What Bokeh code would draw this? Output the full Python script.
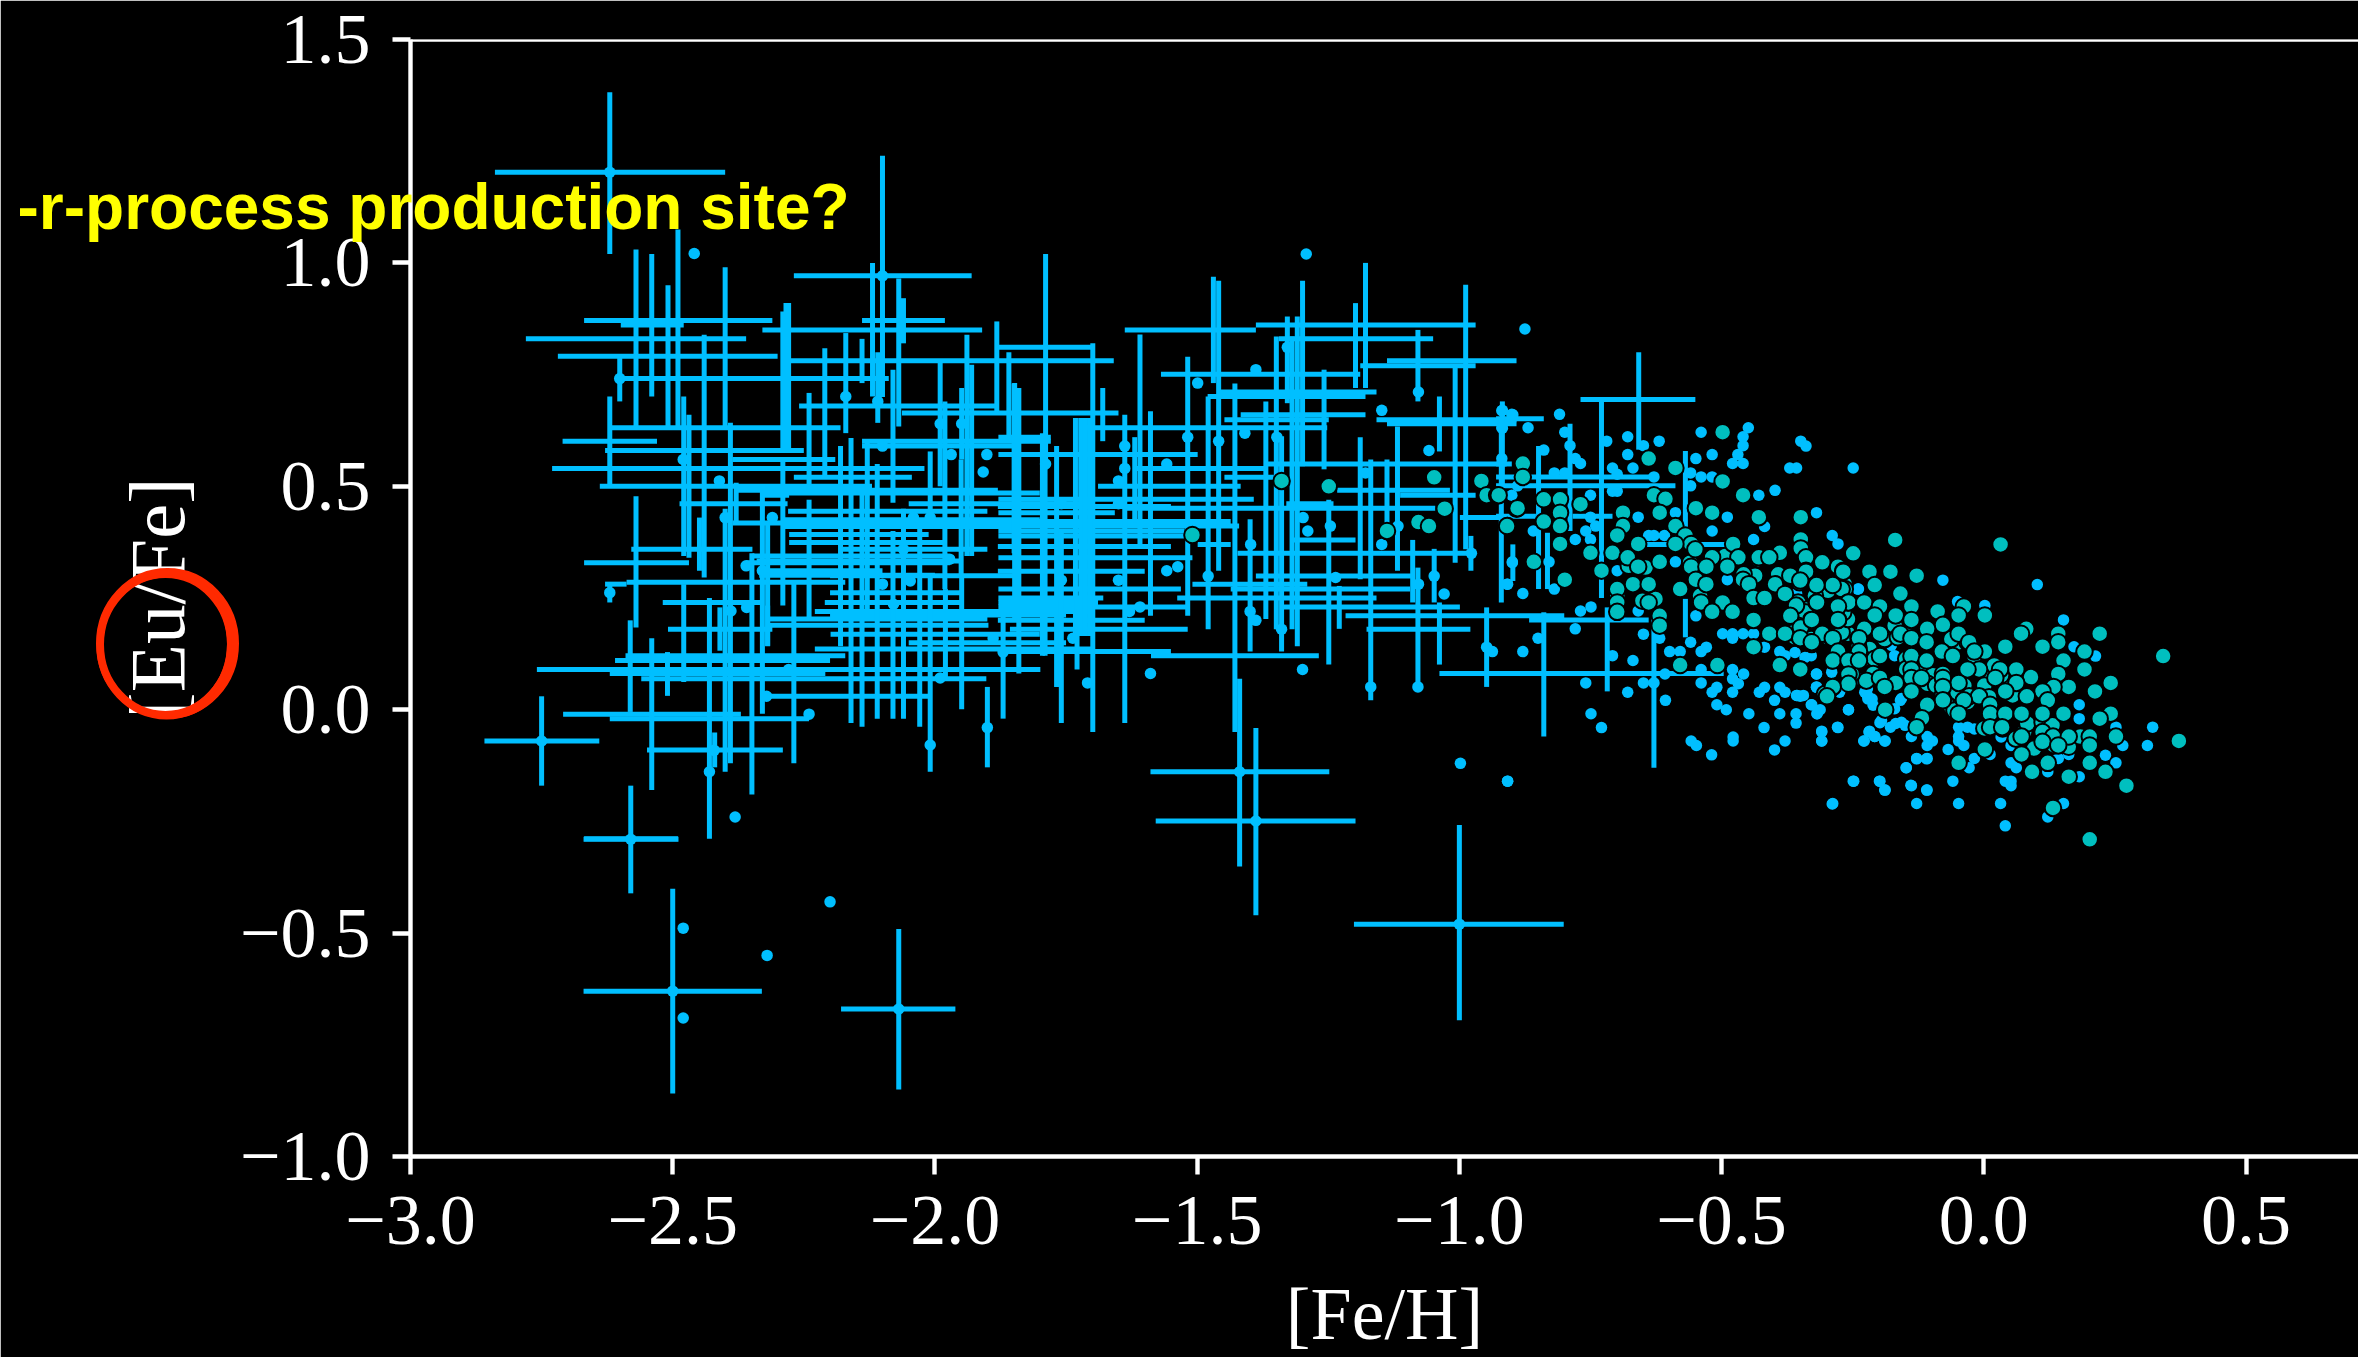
from bokeh.plotting import figure
from bokeh.embed import file_html
from bokeh.resources import INLINE
from bokeh.models import FixedTicker, Label, Span, Range1d

x_ticks = [-3.0, -2.5, -2.0, -1.5, -1.0, -0.5, 0.0, 0.5]
x_tick_labels = ["\u22123.0", "\u22122.5", "\u22122.0", "\u22121.5", "\u22121.0", "\u22120.5", "0.0", "0.5"]
y_ticks = [-1.0, -0.5, 0.0, 0.5, 1.0, 1.5]
y_tick_labels = ["\u22121.0", "\u22120.5", "0.0", "0.5", "1.0", "1.5"]
x_title = "[Fe/H]"
y_title = "[Eu/Fe]"
note = "-r-process production site?"

# [Fe/H] error bars of the metal-poor stars: (y, x_low, x_high)
h_bars = [
 (1.203,-2.839,-2.400),(.971,-2.269,-1.930),(.871,-2.669,-2.310),(.861,-2.599,-2.479),(.830,-2.780,-2.360),
 (.791,-2.719,-2.300),(.850,-2.329,-1.910),(.871,-2.139,-1.981),(.741,-2.601,-2.088),(.781,-2.275,-1.659),
 (.680,-2.259,-1.88),(.664,-2.063,-1.650),(.631,-2.619,-2.180),(.601,-2.710,-2.530),(.601,-2.139,-1.779),
 (.590,-2.139,-1.85),(.580,-2.629,-2.250),(.560,-2.386,-2.190),(.540,-2.730,-2.020),(.520,-2.269,-2.044),
 (.500,-2.639,-2.120),(.491,-2.379,-1.88),(.485,-2.33,-1.80),(.461,-2.487,-2.281),(.461,-2.05,-1.70),
 (.480,-2.329,-2.278),(.418,-2.386,-1.75),(.425,-2.29,-1.80),(.392,-2.278,-2.012),(.374,-2.278,-1.981),
 (.359,-2.579,-2.348),(.359,-2.18,-1.90),(.344,-2.348,-1.974),(.329,-2.669,-2.469),(.329,-2.360,-1.971),
 (.301,-2.335,-2.0),(.311,-2.33,-2.10),(.281,-2.629,-2.588),(.285,-2.588,-2.171),(.240,-2.519,-2.329),
 (.240,-2.21,-1.95),(.220,-2.229,-1.70),(.189,-2.316,-1.898),(.180,-2.509,-2.310),(.169,-2.199,-1.80),
 (.150,-2.05,-1.75),(.136,-2.229,-1.70),(.090,-2.759,-2.215),(.110,-2.610,-2.20),(.121,-2.590,-2.171),
 (.081,-2.620,-2.209),(.069,-2.560,-1.902),(.030,-2.326,-2.012),(-.010,-2.709,-2.370),(-.020,-2.620,-2.240),
 (-.070,-2.859,-2.640),(-.090,-2.549,-2.290),(-.289,-2.669,-2.490),(.090,-2.219,-1.799),
 (-.670,-2.179,-1.961),(-.630,-2.670,-2.330),(-.290,-2.670,-2.489),
 (.850,-1.638,-1.388),(.861,-1.388,-.969),(.830,-1.344,-1.050),(.811,-1.879,-1.699),(.781,-1.138,-.891),
 (.770,-1.189,-.969),(.751,-1.569,-1.189),(.711,-1.461,-1.158),(.701,-1.480,-1.179),(.660,-1.417,-1.179),
 (.649,-1.448,-1.249),(.649,-1.158,-.891),(.640,-1.138,-.891),(.631,-1.721,-1.252),(.610,-1.879,-1.779),
 (.571,-1.879,-1.499),(.550,-1.366,-.910),(.540,-1.62,-1.37),(.520,-1.448,-1.354),(.500,-1.689,-1.417),
 (.491,-1.233,-1.018),(.480,-1.113,-.969),(.471,-1.879,-1.392),(.461,-1.33,-1.24),(.451,-1.638,-1.046),
 (.430,-.999,-.910),(.441,-1.879,-1.657),(.421,-1.879,-1.436),(.411,-1.879,-1.42),(.400,-1.879,-1.524),
 (.389,-1.879,-1.524),(.380,-1.322,-1.198),(.370,-1.499,-1.436),(.350,-1.423,-.977),(.340,-1.879,-1.509),
 (.299,-1.388,-1.091),(.281,-1.509,-1.290),(.270,-1.879,-1.531),(.270,-1.436,-1.094),(.250,-1.879,-1.679),
 (.250,-1.538,-1.158),(.240,-1.879,-1.689),(.230,-1.879,-1.518),(.230,-1.341,-.999),(.210,-1.217,-.80),
 (.180,-1.857,-1.518),(.180,-1.177,-.979),(.130,-1.879,-1.550),(.121,-1.588,-1.268),(-.139,-1.589,-1.248),
 (-.249,-1.579,-1.198),(-.480,-1.201,-.801),(.081,-1.038,-.640),(.081,-.762,-.496),(.201,-.867,-.639),
 (.694,-.769,-.550),(.651,-.93,-.839),(.521,-.93,-.629),(.501,-.93,-.588),(.550,-.93,-.90),(.433,-.93,-.854),
 (.433,-.784,-.708),(.370,-.642,-.493),
 (.410,-2.29,-1.85),(.333,-2.34,-1.95),(.203,-2.316,-1.90),(.212,-2.20,-1.75),(.300,-2.20,-1.85),(.262,-2.20,-1.95),
 (.444,-2.28,-1.90),(.455,-1.88,-1.55),(.365,-1.88,-1.55),(.310,-1.88,-1.60),(.200,-1.88,-1.60),
]

# [Eu/Fe] error bars: (x, y_low, y_high)
v_bars = [
 (-2.620,1.02,1.382),(-2.100,.70,1.24),(-2.490,.634,1.075),(-2.540,.701,1.02),(-2.570,.634,1.03),
 (-2.509,.634,.950),(-2.119,.701,1.0),(-2.060,.820,.921),(-2.601,.690,.787),(-2.400,.634,.99),
 (-2.284,.575,.91),(-2.620,.504,.701),(-2.440,.296,.839),(-2.479,.344,.701),(-2.469,.340,.660),
 (-2.570,.184,.478),(-2.581,-.005,.200),(-2.620,.240,.277),(-2.449,.311,.430),(-2.479,.062,.281),
 (-2.430,-.289,.25),(-2.410,.132,.229),(-2.390,-.120,.642),(-2.379,.418,.508),(-2.329,-.009,.489),
 (-2.319,.143,.418),(-2.290,.233,.560),(-2.290,.575,.891),(-2.279,.575,.910),(-2.269,-.120,.29),
 (-2.240,.493,.709),(-2.210,.519,.809),(-2.240,.2,.47),(-2.180,.142,.590),(-2.160,-.030,.608),
 (-2.170,.619,.843),(-2.139,.731,.830),(-2.139,-.038,.50),(-2.129,.2,.60),(-2.109,.642,.80),
 (-2.110,-.020,.55),(-2.080,.463,.761),(-2.080,-.020,.40),(-2.069,.634,.965),(-2.060,-.020,.45),
 (-1.990,.500,.776),(-1.981,.270,.690),(-1.949,.560,.720),(-1.939,.344,.839),(-1.930,.344,.772),
 (-1.882,.664,.869),(-2.009,.426,.578),(-2.009,-.139,.30),(-2.029,-.038,.42),(-1.949,.001,.30),
 (-1.900,-.129,.051),(-2.750,-.170,.030),(-2.580,-.411,-.170),(-2.540,-.180,.160),(-2.510,.031,.129),
 (-2.420,-.129,-.051),(-2.400,-.139,.45),(-2.349,-.190,.35),(-2.319,.142,.233),(-2.500,-.859,-.401),
 (-2.069,-.850,-.491),(-1.789,.54,1.02),(-1.699,-.050,.820),(-1.680,.601,.720),
 (-1.638,-.030,.66),(-1.609,.363,.840),(-1.589,.210,.668),(-1.619,.42,.61),(-1.518,.210,.790),
 (-1.479,.180,.701),(-1.469,.731,.969),(-1.459,.311,.960),(-1.428,-.050,.730),(-1.419,-.351,.069),
 (-1.388,-.46,-.041),(-1.399,.130,.426),(-1.369,.203,.690),(-1.349,.180,.835),(-1.339,.130,.612),
 (-1.328,.686,.880),(-1.319,.180,.835),(-1.309,.142,.880),(-1.299,.545,.960),(-1.258,.538,.761),
 (-1.249,.101,.470),(-1.229,.181,.277),(-1.198,.720,.910),(-1.179,.720,1.0),(-1.189,.292,.610),
 (-1.169,.021,.560),(-1.138,.389,.560),(-1.118,.311,.634),(-1.079,.690,.850),(-1.089,.24,.38),
 (-1.079,.051,.318),(-1.048,.24,.36),(-1.038,.578,.701),(-1.038,.101,.240),(-1.008,.329,.765),
 (-.988,.359,.951),(-.978,.311,.389),(-.948,.051,.229),(-.918,.50,.69),(-1.732,.165,.653),
 (-1.722,.165,.653),(-1.713,.165,.653),(-1.705,.165,.653),(-1.768,.051,.590),(-1.759,-.030,.40),
 (-1.795,.121,.619),(-1.790,.121,.540),(-1.870,-.020,.25),(-1.840,.081,.720),(-1.859,.6,.80),
 (-1.849,.35,.73),(-1.729,.090,.25),(-1.000,-.695,-.258),(-.839,-.060,.218),(-.718,.041,.229),
 (-.629,-.130,.203),(-.729,.25,.694),(-.658,.582,.80),(-.920,.240,.649),(-.898,.288,.370),
 (-.849,.270,.590),(-.832,.270,.396),(-.789,.400,.640),(-.569,.367,.579),(-.569,.162,.248),
 (-1.980,.073,.27),(-1.950,.30,.56),(-1.848,.20,.731),
]

# field stars without bars and the centres of the bars
blue_points = [
 (-2.459,1.021),(-1.292,1.02),(-.875,.852),(-2.381,-.240),(-2.200,-.430),(-2.480,-.489),(-2.480,-.690),(-2.320,-.550),
 (-1.589,.081),(-1.299,.090),(-.998,-.120),(-.908,-.160),(-1.169,.051),(-1.709,.060),(-2.620,1.203),(-2.100,.971),
 (-2.009,-.079),(-1.900,-.040),(-2.430,-.139),(-2.421,-.091),(-2.240,-.010),(-2.321,.030),(-2.279,.090),(-1.990,.071),
 (-1.889,.160),(-2.601,.741),(-2.310,.430),(-2.170,.701),(-2.109,.690),(-1.990,.640),(-1.949,.640),(-2.100,.590),
 (-1.969,.571),(-1.901,.571),(-1.908,.532),(-2.480,.560),(-2.411,.512),(-2.400,.430),(-2.100,.281),(-2.047,.288),
 (-2.079,.236),(-2.360,.322),(-2.329,.311),(-2.620,.262),(-2.389,.221),(-2.359,.229),(-2.041,.430),(-2.009,.430),
 (-2.060,.359),(-1.972,.337),(-2.750,-.070),(-2.500,-.630),(-2.069,-.670),(-2.580,-.290),(-1.419,-.139),(-1.388,-.249),
 (-1.000,-.480),(-1.328,.811),(-1.078,.711),(-1.499,.731),(-1.388,.761),(-1.148,.670),(-1.058,.580),(-.918,.670),
 (-.898,.660),(-.918,.630),(-1.638,.590),(-1.638,.540),(-1.518,.610),(-1.459,.601),(-1.409,.619),(-1.348,.610),
 (-1.789,.550),(-1.558,.550),(-1.650,.512),(-1.650,.461),(-1.759,.461),(-1.298,.430),(-1.289,.400),(-1.246,.411),
 (-1.148,.370),(-1.558,.311),(-1.537,.320),(-1.650,.290),(-1.759,.290),(-1.479,.299),(-1.398,.370),(-1.629,.220),
 (-1.609,.230),(-1.399,.220),(-1.388,.200),(-1.339,.180),(-1.737,.160),(-.948,.140),(-.937,.130),(-1.078,.281),
 (-1.029,.259),(-1.048,.299),(-.977,.350),(-.899,.329),(-.908,.281),(-1.117,.411),(-1.179,.530),(-1.236,.296),
 (-1.870,.129),(-1.079,.051),
 (-.078,.290),(.102,.280),(.152,.201),(.172,.141),(.213,.120),(.182,.011),(.182,-.020),(.322,-.039),(.312,-.080),
 (.252,-.039),(.252,-.119),(.232,-.102),(.265,-.080),(.182,-.150),(.122,-.139),(-.319,.080),(-.319,.051),(-.350,.030),
 (-.328,.011),(-.318,-.009),(-.258,0),(-.279,-.039),(-.309,-.048),(-.309,-.070),(-.228,-.070),(-.218,-.048),(-.208,-.060),
 (-.188,-.070),(-.198,-.029),(-.178,-.039),(-.138,-.060),(-.108,-.060),(-.098,-.070),(-.108,-.080),(-.068,-.089),
 (-.038,-.080),(-.048,-.060),(-.128,-.109),(-.108,-.109),(-.148,-.130),(-.018,-.109),(-.028,-.130),(-.248,-.160),
 (-.198,-.160),(-.188,-.180),(-.138,-.170),(-.108,-.180),(-.059,-.160),(.041,-.160),(.052,-.160),(.052,-.170),
 (-.288,-.210),(-.128,-.210),(-.048,-.210),(.032,-.210),(.152,-.210),(.122,-.240),(.041,-.260),(.052,-.119),(.062,-.130),
 (-.018,-.043),(-.031,-.039),(.052,-.080),(.012,-.100),(-.048,-.039),(-.048,-.070),(.162,-.100),(.142,-.109),
 (-.227,.039),(-.221,.024),(-.211,.010),(-.176,.144),(-.170,.121),(-.240,.270),(-.157,.025),(-.170,.002),(-.157,-.028),
 (-.237,.069),(-.275,.039),(-.290,.084),(-.050,.242),(.002,.233),(.033,-.061),
 (-.919,.669),(-.900,.661),(-.809,.661),(-.919,.631),(-.869,.631),(-.799,.621),(-.539,.621),(-.449,.631),(-.459,.611),
 (-.679,.611),(-.719,.601),(-.619,.601),(-.649,.591),(-.459,.591),(-.349,.601),(-.339,.590),(-.789,.591),(-.839,.581),
 (-.679,.571),(-.518,.571),(-.469,.571),(-.549,.562),(-.479,.551),(-.459,.551),(-.769,.551),(-.779,.562),(-.919,.562),
 (-.370,.541),(-.357,.541),(-.249,.541),(-.669,.541),(-.819,.530),(-.799,.530),(-.708,.541),(-.699,.527),(-.559,.530),
 (-.539,.521),(-.518,.521),(-.629,.521),(-.559,.501),(-.889,.501),(-.708,.489),(-.699,.489),(-.398,.491),(-.429,.480),
 (-.750,.480),(-.900,.480),(-.319,.441),(-.489,.431),(-.588,.441),(-.659,.431),(-.418,.410),(-.750,.431),(-.740,.411),
 (-.759,.400),(-.859,.400),(-.518,.400),(-.639,.390),(-.629,.390),(-.609,.390),(-.779,.381),(-.750,.381),(-.439,.381),
 (-.289,.390),(-.278,.371),(-.899,.331),(-.829,.331),(-.588,.331),(-.699,.311),(-.489,.291),(-.909,.281),(-.819,.270),
 (-.879,.260),(-.239,.270),(-.357,.260),(-.749,.230),(-.769,.221),(-.659,.221),(-.549,.210),(-.779,.181),(-.850,.160),
 (-.649,.169),(-.498,.170),(-.479,.170),(-.479,.160),(-.459,.170),(-.439,.170),(-.559,.151),(-.618,.160),(-.879,.130),
 (-.708,.121),(-.669,.110),(-.599,.130),(-.579,.130),(-.539,.130),(-.529,.140),(-.418,.140),(-.389,.130),(-.379,.121),
 (-.360,.128),(-.341,.117),(-.329,.121),(-.539,.090),(-.608,.080),(-.479,.090),(-.458,.080),(-.479,.069),(-.468,.058),
 (-.759,.060),(-.649,.060),(-.629,.060),(-.539,.060),(-.679,.039),(-.518,.039),(-.509,.050),(-.479,.039),(-.428,.039),
 (-.418,.050),(-.389,.050),(-.379,.039),(-.319,.080),(-.319,.050),(-.357,.032),(-.344,.032),
 (-.749,-.009),(-.729,-.040),(-.908,-.160),(-.558,-.070),(-.548,-.080),(-.519,-.101),(-.478,-.061),(-.478,-.070),
 (-.448,-.009),(-.419,-.040),(-.399,-.090),(-.379,-.070),(-.389,-.009),(-.358,-.009),(-.358,-.030),(-.309,-.050),
 (-.309,-.070),(-.278,-.040),(-.258,0),(-.229,-.070),(-.219,-.050),(-.208,-.060),(-.189,-.070),(-.399,.021),(-.509,.011),
 (-.491,0),(-.607,.021),(-.329,.011),(-.312,0),(-.318,-.009),(-.356,.032),(-.222,.047),(-.222,.032),(-.213,.024),
 (-.159,.021),(-.195,-.024),(-.168,-.031),(-.150,-.035),(-.249,-.160),(-.199,-.160),(-.189,-.180),(-.139,-.169),
 (-.109,-.180),(-.289,-.211),(-.148,-.130),(-.128,-.110),(-.109,-.110),
]

# thin-disc stars
teal_points = [
 # partly hidden stars first, so that they lie underneath
 (-.354,.240),(-.335,.225),(-.319,.263),(-.297,.263),(-.265,.281),(-.265,.214),(-.341,.162),(-.360,.162),(-.328,.147),
 (-.287,.162),(-.259,.170),(-.227,.184),(-.218,.136),(-.240,.140),(-.249,.114),(-.230,.114),(-.208,.114),(-.189,.158),
 (-.170,.188),(-.164,.162),(-.148,.170),(-.148,.114),(-.148,.091),(-.119,.091),(-.097,.077),(-.107,.058),(-.091,.054),
 (-.078,.032),(-.078,.080),(-.062,.006),(-.047,.151),(-.062,.158),(-.031,.151),(-.018,.121),(.014,.080),(.001,.054),
 (-.031,.017),(-.005,.028),(.010,.028),(.055,.077),(.090,.073),(.052,.054),(.055,.032),(.033,.077),(.020,.099),
 (.077,-.050),(.083,-.031),(.112,-.028),(.131,-.035),(.134,-.080),(.162,-.083),(.184,-.060),(.061,-.065),(.036,-.042),
 (.096,-.087),(.001,-.042),(-.043,.025),(-.037,.054),(-.050,.039),(-.056,-.002),(-.211,.080),(-.224,.065),(-.278,.136),
 (-.297,.039),(-.252,.080),(-.449,.292),(-.436,.300),(-.458,.303),(-.430,.337),(-.493,.344),(-.297,.266),(-.322,.255),
 (-.265,.270),(-.392,.303),(-.351,.285),(-.341,.218),(-.354,.188),(-.363,.173),(-.348,.158),(-.329,.158),(-.297,.162),
 (-.271,.173),(-.259,.203),(-.268,.218),(-.271,.270),(-.677,.322),(-.645,.318),(-.626,.248),(-.651,.244),(-.699,.255),
 (-.560,.329),(-.537,.270),(-.541,.255),
 (-1.339,.512),(-1.249,.500),(-1.509,.391),(-1.048,.520),(-.958,.512),(-.948,.480),(-.928,.480),(-1.028,.450),(-1.078,.420),
 (-1.058,.411),(-1.138,.400),(-.908,.411),(-.891,.450),(-.498,.621),(-.639,.562),(-.588,.541),(-.879,.551),(-.879,.521),
 (-.498,.511),(-.925,.480),(-.459,.480),(-.629,.480),(-.607,.472),(-.839,.471),(-.808,.471),(-.769,.460),(-.889,.451),
 (-.549,.451),(-.808,.441),(-.618,.441),(-.518,.441),(-.688,.441),(-.429,.431),(-.349,.431),(-.839,.421),(-.909,.411),
 (-.808,.411),(-.688,.411),(-.588,.411),(-.699,.390),(-.569,.390),(-.349,.381),(-.808,.371),(-.659,.371),(-.558,.371),
 (-.478,.371),(-.588,.371),(-.349,.361),(-.750,.351),(-.708,.351),(-.389,.351),(-.248,.351),(-.550,.359),(-.518,.341),
 (-.679,.341),(-.468,.341),(-.429,.341),(-.409,.341),(-.339,.341),(-.858,.331),(-.618,.331),(-.308,.331),(-.659,.320),
 (-.558,.320),(-.489,.320),(-.529,.320),(-.278,.320),(-.729,.311),(-.339,.311),(-.268,.311),(-.369,.300),(-.799,.291),
 (-.549,.291),(-.459,.291),(-.448,.281),(-.398,.281),(-.669,.281),(-.639,.281),(-.289,.281),(-.529,.281),(-.319,.281),
 (-.699,.270),(-.579,.270),(-.379,.259),(-.439,.250),(-.418,.250),(-.699,.240),(-.639,.240),(-.539,.240),(-.498,.240),
 (-.319,.240),(-.278,.233),(-.259,.240),(-.699,.219),(-.518,.219),(-.479,.219),(-.358,.233),(-.618,.210),(-.369,.210),
 (-.439,.201),(-.329,.201),(-.278,.201),(-.618,.188),(-.409,.170),(-.379,.170),(-.308,.170),(-.349,.184),(-.239,.160),
 (-.439,.140),(-.329,.151),(-.289,.160),(-.278,.132),(-.289,.110),(-.259,.110),(-.579,.100),(-.508,.100),(-.389,.100),
 (-.349,.090),(-.259,.080),(-.289,.050),(-.303,.035),(-.239,.140),(-.169,.380),(.032,.370),(-.179,.310),(-.130,.300),
 (-.249,.350),(-.220,.310),
 (-.339,.309),(-.308,.330),(-.268,.309),(-.218,.309),(-.178,.309),(-.128,.300),(-.159,.260),(-.208,.279),(-.288,.279),
 (-.319,.279),(-.350,.289),(-.318,.240),(-.258,.240),(-.228,.240),(-.198,.231),(-.278,.231),(-.138,.231),(-.088,.220),
 (-.038,.231),(.002,.211),(-.048,.211),(-.208,.211),(-.168,.211),(-.328,.201),(-.278,.201),(-.138,.201),(-.078,.190),
 (.081,.181),(.071,.170),(.142,.170),(.221,.170),(-.108,.181),(-.228,.181),(-.198,.170),(-.159,.170),(-.048,.170),
 (-.308,.170),(-.238,.160),(-.288,.160),(-.138,.160),(-.350,.160),(-.328,.151),(-.109,.151),(-.028,.151),(.142,.151),
 (.112,.141),(.041,.141),(.002,.130),(-.018,.130),(-.080,.130),(.192,.130),(-.278,.130),(-.059,.120),(-.198,.120),
 (-.138,.120),(-.238,.130),(.152,.110),(-.288,.110),(-.258,.110),(-.109,.110),(-.238,.110),(.192,.090),(-.350,.090),
 (-.009,.090),(.062,.090),(.031,.090),(-.031,.090),(-.138,.090),(.142,.080),(.022,.071),(-.258,.079),(-.198,.071),
 (-.138,.071),(-.078,.071),(-.119,.071),(-.048,.060),(-.168,.060),(.062,.060),(.242,.060),(-.258,.058),(.162,.051),
 (.133,.051),(-.078,.051),(-.288,.051),(-.189,.051),(.041,.041),(.212,.041),(.112,.041),(-.138,.041),(-.028,.030),
 (.082,.030),(-.299,.030),(.122,.021),(-.078,.021),(-.009,.030),(-.108,.011),(.012,.011),(-.038,.021),(-.188,0),
 (-.048,-.009),(.012,-.009),(.041,-.009),(.072,-.009),(.112,-.009),(.152,-.009),(.242,-.009),(.221,-.020),(-.118,-.019),
 (-.128,-.039),(.012,-.039),(.035,-.039),(.112,-.050),(.072,-.060),(.132,-.060),(.162,-.060),(.202,-.060),(.252,-.060),
 (.112,-.072),(.142,-.080),(.202,-.080),(.002,-.089),(.072,-.100),(-.048,-.119),(.122,-.119),(.202,-.119),(.092,-.139),
 (.232,-.139),(.162,-.150),(.272,-.170),(.132,-.220),(.202,-.290),(.342,.120),(.372,-.070),
]

BLUE = "#00BFFF"
TEAL = "#00BFBF"
RED = "#FF2A00"
SERIF = "Liberation Serif"
W, H = 2358, 1357

p = figure(width=W, height=H, output_backend="svg", toolbar_location=None,
           x_range=Range1d(-3.0, 0.7145), y_range=Range1d(-1.0, 1.5),
           background_fill_color="black", border_fill_color="black",
           min_border_left=410, min_border_right=0, min_border_top=39, min_border_bottom=199)
p.outline_line_color = None
p.grid.visible = False

for ax, ticks, labels, title in ((p.xaxis[0], x_ticks, x_tick_labels, x_title),
                                 (p.yaxis[0], y_ticks, y_tick_labels, y_title)):
    ax.ticker = FixedTicker(ticks=ticks)
    ax.major_label_overrides = dict(zip(ticks, labels))
    ax.axis_line_color = "white"
    ax.axis_line_width = 4.4
    ax.major_tick_line_color = "white"
    ax.major_tick_line_width = 4.4
    ax.major_tick_in = 0
    ax.major_tick_out = 18
    ax.minor_tick_line_color = None
    ax.major_label_text_color = "white"
    ax.major_label_text_font = SERIF
    ax.major_label_text_font_size = "72px"
    ax.axis_label = title
    ax.axis_label_text_color = "white"
    ax.axis_label_text_font = SERIF
    ax.axis_label_text_font_style = "normal"
p.xaxis[0].axis_label_text_font_size = "74px"
p.yaxis[0].axis_label_text_font_size = "79px"
p.xaxis[0].major_label_standoff = 22
p.xaxis[0].axis_label_standoff = 26
p.yaxis[0].major_label_standoff = 22
p.yaxis[0].major_label_orientation = "horizontal"
p.yaxis[0].axis_label_standoff = 36

p.add_layout(Span(location=1.5, dimension="width", line_color="white", line_width=4.4))

hy, hlo, hhi = zip(*h_bars)
vx, vlo, vhi = zip(*v_bars)
bx, by = zip(*blue_points)
tx, ty = zip(*teal_points)

p.segment(x0=hlo, x1=hhi, y0=hy, y1=hy, line_color=BLUE, line_width=5, line_cap="butt")
p.segment(x0=vx, x1=vx, y0=vlo, y1=vhi, line_color=BLUE, line_width=5, line_cap="butt")
p.scatter(x=bx, y=by, size=11.5, fill_color=BLUE, line_color=BLUE, line_width=0)
p.scatter(x=tx, y=ty, size=16.5, fill_color=TEAL, line_color="black", line_width=2)

# transparent layer laid over the chart, measured in page pixels, for the slide's note and circle
q = figure(width=W, height=H, output_backend="svg", toolbar_location=None,
           x_range=Range1d(0, W), y_range=Range1d(H, 0),
           x_axis_type=None, y_axis_type=None,
           background_fill_color=None, border_fill_color=None,
           min_border_left=0, min_border_right=0, min_border_top=0, min_border_bottom=0,
           styles={"position": "absolute", "left": "0px", "top": "0px"})
q.outline_line_color = None
q.grid.visible = False
for cx, cy, w, h, lw in ((165, 644, 128, 138, 5), (166, 645, 134, 142, 6), (167, 643, 138, 146, 5), (164, 643, 130, 142, 5)):
    q.ellipse(x=[cx], y=[cy], width=[w], height=[h], fill_alpha=0, line_color=RED, line_width=lw)
q.add_layout(Label(x=17, y=206, text=note, text_color="#FFFF00", text_font="Liberation Sans",
                   text_font_style="bold", text_font_size="64px", text_baseline="alphabetic"))

open("out.html", "w").write(file_html([p, q], INLINE))
